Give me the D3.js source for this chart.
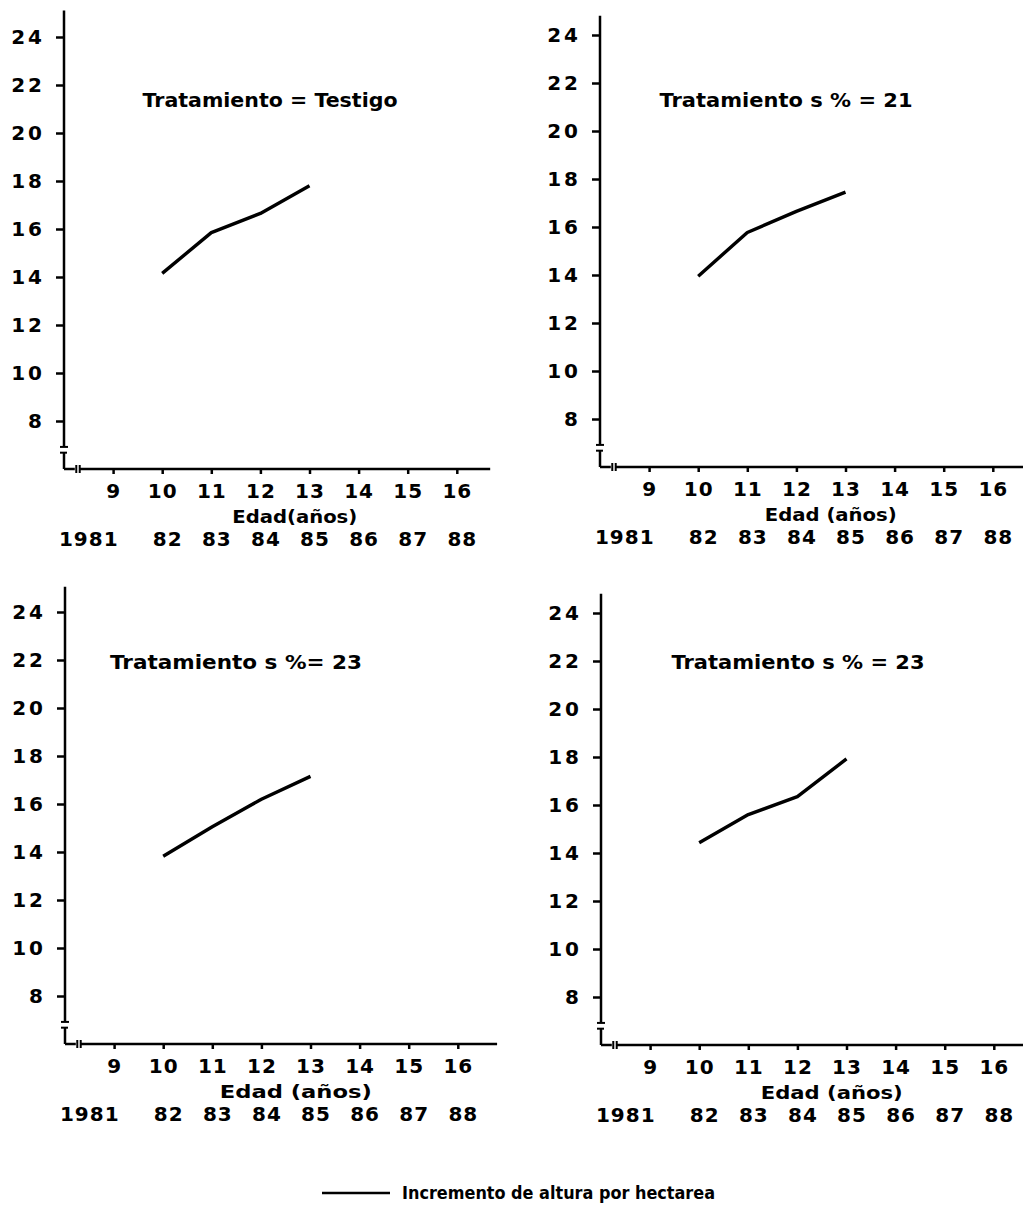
<!DOCTYPE html>
<html>
<head>
    <meta charset="utf-8">
    <title>Incremento de altura por hectarea</title>
    <script type="text/javascript" src="https://cdn.jsdelivr.net/npm/d3@7/dist/d3.min.js"></script>
    <style type="text/css">
        body { margin: 0; background: #fff; }
        svg text { font-family: "DejaVu Sans", sans-serif; font-weight: bold; fill: #000; }
        .axis path, .axis line { stroke: #000; stroke-width: 2.5; }
    </style>
</head>
<body>
    <script type="text/javascript">
        var w = 1023;
        var h = 1210;

        // data
        var ages = [10, 11, 12, 13];
        var ageTicks = [9, 10, 11, 12, 13, 14, 15, 16];
        var yearTicks = ["1981", "82", "83", "84", "85", "86", "87", "88"];
        var yTicks = [8, 10, 12, 14, 16, 18, 20, 22, 24];
        var testigo = [14.15, 15.85, 16.65, 17.8];
        var trat21 = [13.95, 15.77, 16.65, 17.45];
        var trat23a = [13.82, 15.05, 16.2, 17.15];
        var trat23b = [14.43, 15.6, 16.35, 17.92];
        var titles = ["Tratamiento = Testigo", "Tratamiento s % = 21", "Tratamiento s %= 23", "Tratamiento s % = 23"];
        var edadLabels = ["Edad(años)", "Edad (años)", "Edad (años)", "Edad (años)"];
        var legendLabel = "Incremento de altura por hectarea";

        var series = [testigo, trat21, trat23a, trat23b];

        // panel frames (pixels)
        var frames = [
            {x0: 64,  y0: 469,  yTop: 25.1, xEnd: 16.68, tx: 270, ty: 100, tw: 255, ew: 125},
            {x0: 600, y0: 467,  yTop: 24.8, xEnd: 17.2,  tx: 786, ty: 100, tw: 253, ew: 132},
            {x0: 65,  y0: 1044, yTop: 25.05, xEnd: 16.8, tx: 236, ty: 662, tw: 252, ew: 152},
            {x0: 601, y0: 1045, yTop: 24.8, xEnd: 17.2,  tx: 798, ty: 662, tw: 253, ew: 142}
        ];
        var pxX = 49.1, pxY = 24;

        var svg = d3.select("body").append("svg")
            .attr("width", w).attr("height", h);

        frames.forEach(function(f, i) {
            var xScale = d3.scaleLinear().domain([8, 17]).range([f.x0, f.x0 + 9 * pxX]);
            var yScale = d3.scaleLinear().domain([6, 25]).range([f.y0, f.y0 - 19 * pxY]);
            var g = svg.append("g");

            // y axis, broken near the bottom
            var yAxis = d3.axisLeft(yScale).tickValues(yTicks).tickSize(8).tickPadding(11);
            var ya = g.append("g").attr("class", "axis")
                .attr("transform", "translate(" + f.x0 + ",0)")
                .call(yAxis);
            ya.select(".domain").remove();
            ya.selectAll("text").style("font-size", "20px").style("letter-spacing", "3px");
            g.append("line")
                .attr("x1", f.x0).attr("x2", f.x0)
                .attr("y1", yScale(f.yTop)).attr("y2", yScale(6.92))
                .attr("stroke", "#000").attr("stroke-width", 2.5);
            g.append("line")
                .attr("x1", f.x0 - 4).attr("x2", f.x0 + 4)
                .attr("y1", yScale(6.92)).attr("y2", yScale(6.92))
                .attr("stroke", "#000").attr("stroke-width", 2);
            g.append("line")
                .attr("x1", f.x0 - 4).attr("x2", f.x0 + 3)
                .attr("y1", yScale(6.68)).attr("y2", yScale(6.68))
                .attr("stroke", "#000").attr("stroke-width", 2);
            g.append("line")
                .attr("x1", f.x0).attr("x2", f.x0)
                .attr("y1", yScale(6.68)).attr("y2", yScale(6))
                .attr("stroke", "#000").attr("stroke-width", 2.5);

            // x axis, broken near the origin
            var xAxis = d3.axisBottom(xScale).tickValues(ageTicks).tickSize(5).tickPadding(10);
            var xa = g.append("g").attr("class", "axis")
                .attr("transform", "translate(0," + f.y0 + ")")
                .call(xAxis);
            xa.select(".domain").remove();
            xa.selectAll("text").style("font-size", "20px").style("letter-spacing", "1px");
            g.append("line")
                .attr("x1", xScale(8)).attr("x2", xScale(8.22))
                .attr("y1", f.y0).attr("y2", f.y0)
                .attr("stroke", "#000").attr("stroke-width", 2.5);
            [8.25, 8.32].forEach(function(b) {
                g.append("line")
                    .attr("x1", xScale(b)).attr("x2", xScale(b))
                    .attr("y1", f.y0 - 4).attr("y2", f.y0 + 4)
                    .attr("stroke", "#000").attr("stroke-width", 2);
            });
            g.append("line")
                .attr("x1", xScale(8.32)).attr("x2", xScale(f.xEnd))
                .attr("y1", f.y0).attr("y2", f.y0)
                .attr("stroke", "#000").attr("stroke-width", 2.5);

            // year row
            var yearAxis = d3.axisBottom(xScale).tickValues(ageTicks).tickSize(0)
                .tickFormat(function(d, k) { return yearTicks[k]; });
            var yr = g.append("g")
                .attr("transform", "translate(5," + (f.y0 + 60) + ")")
                .call(yearAxis);
            yr.select(".domain").remove();
            yr.selectAll("text").style("font-size", "20px").style("letter-spacing", "1px")
                .filter(function(d, k) { return k == 0; })
                .attr("text-anchor", "end").attr("x", 0);

            // axis title
            g.append("text")
                .attr("x", xScale(12.7)).attr("y", f.y0 + 54)
                .attr("text-anchor", "middle")
                .attr("textLength", f.ew).attr("lengthAdjust", "spacingAndGlyphs")
                .style("font-size", "18px")
                .text(edadLabels[i]);

            // panel title
            g.append("text")
                .attr("x", f.tx).attr("y", f.ty + 7)
                .attr("text-anchor", "middle")
                .attr("textLength", f.tw).attr("lengthAdjust", "spacingAndGlyphs")
                .style("font-size", "19px")
                .text(titles[i]);

            // series line
            var line = d3.line()
                .x(function(d, k) { return xScale(ages[k]); })
                .y(function(d) { return yScale(d); });
            g.append("path")
                .datum(series[i])
                .attr("d", line)
                .attr("fill", "none")
                .attr("stroke", "#000")
                .attr("stroke-width", 3.4)
                .attr("stroke-linejoin", "round");
        });

        // legend
        svg.append("line")
            .attr("x1", 322).attr("x2", 390).attr("y1", 1193).attr("y2", 1193)
            .attr("stroke", "#000").attr("stroke-width", 2.5);
        svg.append("text")
            .attr("x", 402).attr("y", 1199)
            .attr("textLength", 313).attr("lengthAdjust", "spacingAndGlyphs")
            .style("font-size", "17px")
            .text(legendLabel);
    </script>
</body>
</html>
